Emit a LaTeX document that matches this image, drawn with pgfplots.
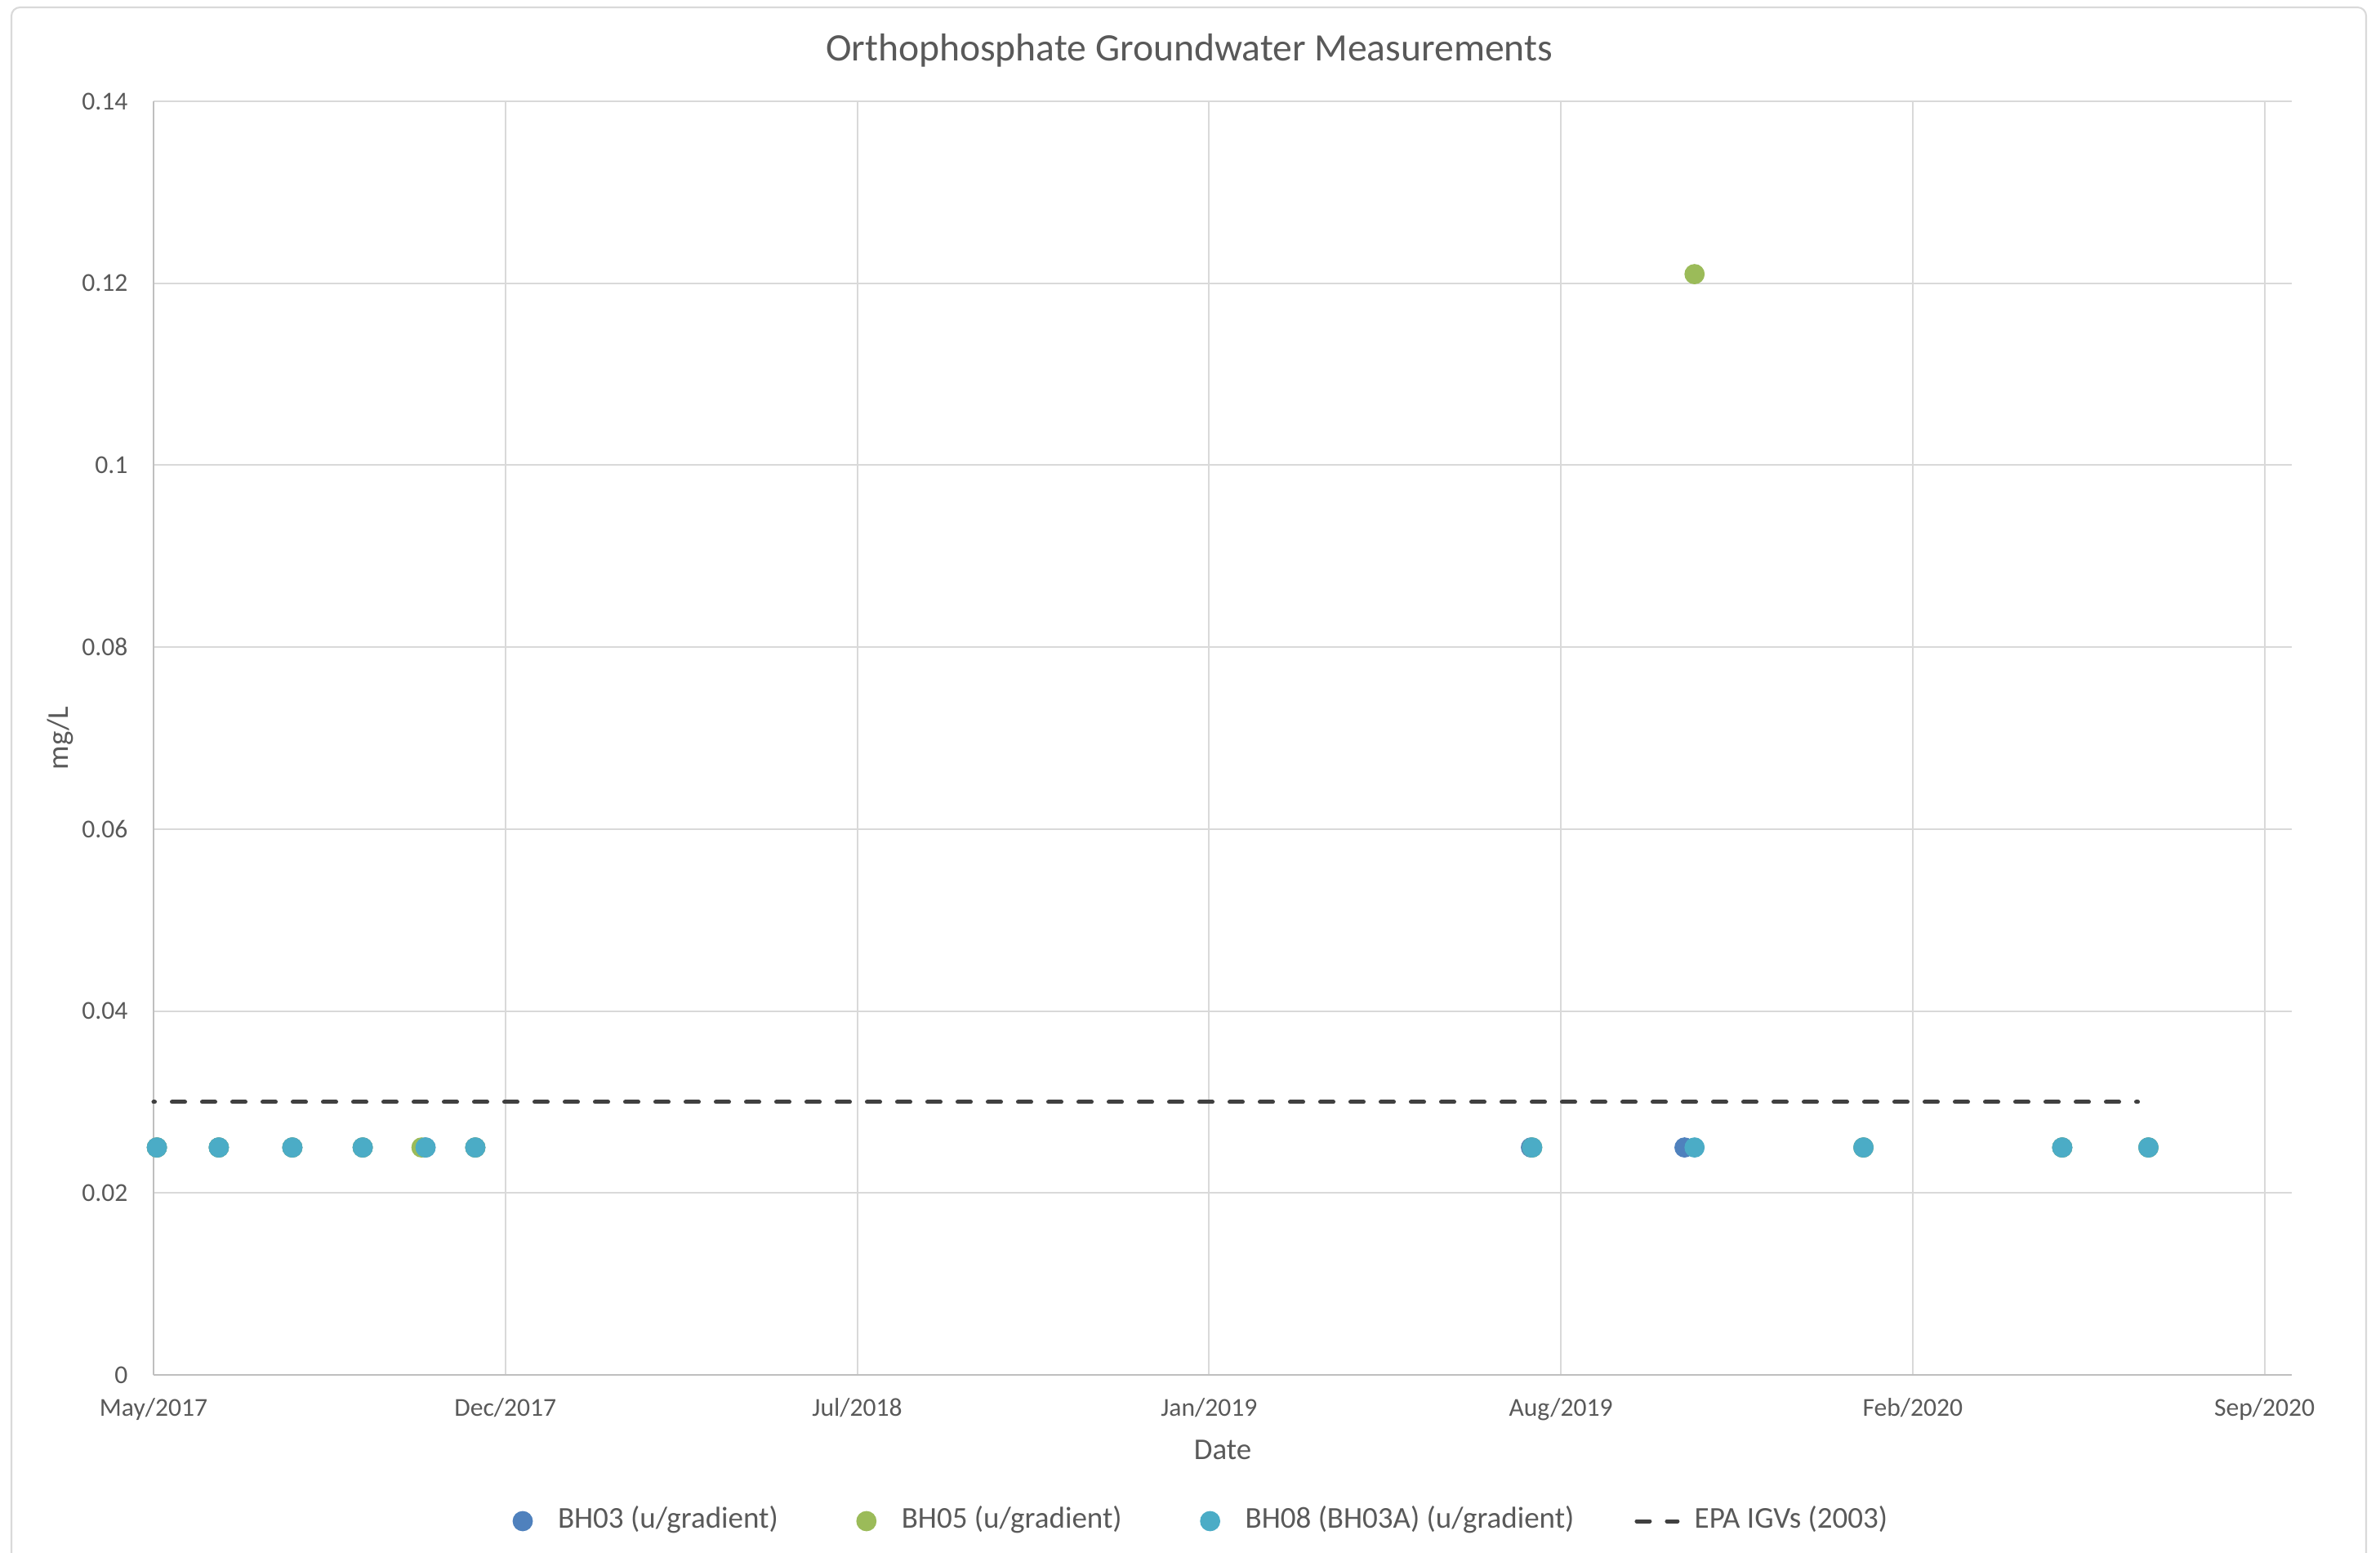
\documentclass[border=0pt]{standalone}
\usepackage{fontspec}
\setmainfont{Carlito}
\usepackage{pgfplots}
\pgfplotsset{compat=1.18}
\definecolor{bhA}{HTML}{4F81BD}
\definecolor{bhB}{HTML}{9BBB59}
\definecolor{bhC}{HTML}{4BACC6}
\definecolor{epa}{HTML}{404040}
\definecolor{txt}{HTML}{595959}
\definecolor{gridc}{HTML}{D9D9D9}
\definecolor{axisc}{HTML}{BFBFBF}
\pgfplotsset{
  markimg/.style={legend image code/.code={\path[draw=none,fill=none] (0pt,0pt) -- (19.38pt,0pt); \draw[##1] plot coordinates {(9.69pt,0pt)};}},
  lineimg/.style={legend image code/.code={\path[draw=none,fill=none] (0pt,0pt) -- (17.6pt,0pt); \draw[##1, dash phase=0pt] (0pt,0pt) -- (14.25pt,0pt);}},
}

\begin{document}
\begin{tikzpicture}
\path[use as bounding box] (-53.58pt,-62.13pt) rectangle (776.91pt,479.655pt);
\draw[gridc, line width=0.6pt, rounded corners=3pt] (-49.59pt,-90pt) rectangle (772.07pt,477.09pt);
\begin{axis}[
  at={(0pt,0pt)}, anchor=south west,
  scale only axis, width=746.13pt, height=444.315pt,
  xmin=0, xmax=1215.5, ymin=0, ymax=0.14,
  clip=false,
  axis lines*=left,
  axis line style={axisc, line width=0.7pt},
  xtick={0,200,400,600,800,1000,1200},
  xticklabels={May/2017,Dec/2017,Jul/2018,Jan/2019,Aug/2019,Feb/2020,Sep/2020},
  ytick={0,0.02,0.04,0.06,0.08,0.1,0.12,0.14},
  yticklabels={0,0.02,0.04,0.06,0.08,0.1,0.12,0.14},
  /pgf/number format/assume math mode=true,
  major tick length=0pt,
  grid=major,
  major grid style={gridc, line width=0.57pt},
  tick label style={font=\fontsize{9}{10.8}\selectfont, text=txt},
  x tick label style={anchor=base, yshift=-14.5pt, inner sep=0pt},
  y tick label style={anchor=east, xshift=-8.8pt, inner sep=0pt},
  xlabel={Date}, ylabel={mg/L},
  every axis x label/.style={at={(axis description cs:0.5,-0.0667)}, anchor=base, font=\fontsize{10.5}{12.5}\selectfont, text=txt},
  every axis y label/.style={at={(axis description cs:-0.04355,0.5)}, rotate=90, anchor=center, font=\fontsize{10.5}{12.5}\selectfont, text=txt},
  title={Orthophosphate Groundwater Measurements},
  every axis title shift=0pt,
  title style={at={(axis description cs:0.48434,1.03143)}, anchor=base, font=\fontsize{13.57}{16}\selectfont, text=txt},
  legend columns=4,
  legend cell align=left,
  legend style={draw=none, fill=none, inner sep=0pt, outer sep=0pt,
    at={(0.15967,-0.11482)}, anchor=west,
    font=\fontsize{10.55}{12.6}\selectfont, text=txt,
    nodes={inner sep=0pt, text height=0.7em, text depth=0.2em},
    /tikz/every even column/.append style={column sep=21.09pt},
    /tikz/every odd column/.append style={column sep=2.565pt}},
]
\addplot[only marks, mark=*, mark size=3.33pt, color=bhA, mark options={draw=none, fill=bhA}, markimg]
  coordinates {(1.9,0.025) (37.1,0.025) (78.9,0.025) (118.9,0.025) (154.6,0.025) (182.9,0.025)
               (783.0,0.025) (870.3,0.025) (972,0.025) (1085,0.025) (1134,0.025)};
\addplot[only marks, mark=*, mark size=3.33pt, color=bhB, mark options={draw=none, fill=bhB}, markimg]
  coordinates {(1.9,0.025) (37.1,0.025) (78.9,0.025) (118.9,0.025) (152.3,0.025) (182.9,0.025)
               (783.7,0.025) (876,0.121) (972,0.025) (1085,0.025) (1134,0.025)};
\addplot[only marks, mark=*, mark size=3.33pt, color=bhC, mark options={draw=none, fill=bhC}, markimg]
  coordinates {(1.9,0.025) (37.1,0.025) (78.9,0.025) (118.9,0.025) (154.6,0.025) (182.9,0.025)
               (783.7,0.025) (876,0.025) (972,0.025) (1085,0.025) (1134,0.025)};
\addplot[epa, line width=1.425pt, line cap=round, dash pattern=on 4.56pt off 5.985pt, dash phase=4.13pt, lineimg]
  coordinates {(0,0.03) (1128,0.03)};
\legend{BH03 (u/gradient), BH05 (u/gradient), BH08 (BH03A) (u/gradient), EPA IGVs (2003)}
\end{axis}
\end{tikzpicture}
\end{document}
